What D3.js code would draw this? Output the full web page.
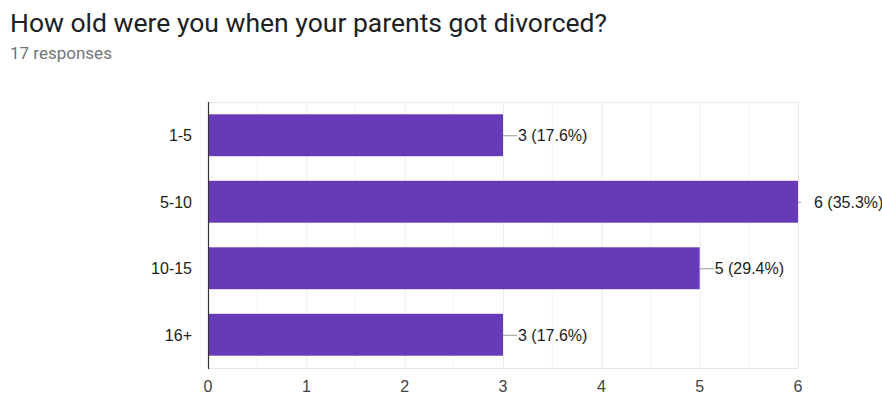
<!DOCTYPE html>
<html><head><meta charset="utf-8">
<script src="https://cdn.jsdelivr.net/npm/d3@7/dist/d3.min.js"></script>
<style>body{margin:0;background:#fff}svg{display:block}</style>
</head><body>
<svg id="c" width="882" height="394"></svg>
<script>
const title = "How old were you when your parents got divorced?";
const subtitle = "17 responses";
const categories = ["1-5", "5-10", "10-15", "16+"];
const values = [3, 6, 5, 3];
const percents = ["17.6%", "35.3%", "29.4%", "17.6%"];
const xTicks = [0, 1, 2, 3, 4, 5, 6];

const svg = d3.select("#c");
svg.append("text").attr("x", 10).attr("y", 32)
  .attr("font-family", "Roboto").attr("font-size", 26.5).attr("fill", "#202124").text(title);
svg.append("text").attr("x", 10).attr("y", 59)
  .attr("font-family", "Roboto").attr("font-size", 17).attr("fill", "#70757a").text(subtitle);

const m = {left: 208, right: 798, top: 102, bottom: 368};
const x = d3.scaleLinear().domain([0, 6]).range([m.left, m.right]);
const y = d3.scaleBand().domain(categories).range([m.top, m.bottom]).paddingInner(0.37).paddingOuter(0.185);

const g = svg.append("g");
// minor gridlines
g.selectAll(".minor").data(d3.range(0.5, 6, 1)).join("line")
  .attr("x1", d => x(d)).attr("x2", d => x(d)).attr("y1", m.top).attr("y2", m.bottom)
  .attr("stroke", "#f3f3f3").attr("stroke-width", 1);
g.selectAll(".major").data(xTicks.slice(1)).join("line")
  .attr("x1", d => x(d) + 0.5).attr("x2", d => x(d) + 0.5).attr("y1", m.top).attr("y2", m.bottom)
  .attr("stroke", "#ebebeb").attr("stroke-width", 1);
g.append("line").attr("x1", m.left).attr("x2", m.right).attr("y1", m.top + 0.5).attr("y2", m.top + 0.5)
  .attr("stroke", "#ebebeb");
g.append("line").attr("x1", m.left).attr("x2", m.right).attr("y1", m.bottom + 0.5).attr("y2", m.bottom + 0.5)
  .attr("stroke", "#e6e6e6");

// bars
g.selectAll(".bar").data(values).join("rect")
  .attr("x", x(0)).attr("y", (d, i) => y(categories[i]))
  .attr("width", d => x(d) - x(0)).attr("height", y.bandwidth())
  .attr("fill", "#673ab7");

// leader lines & labels
values.forEach((v, i) => {
  const cy = y(categories[i]) + y.bandwidth() / 2;
  const atEnd = v === 6;
  const x0 = x(v);
  const x1 = atEnd ? x0 + 3 : x0 + 14;
  g.append("line").attr("x1", x0).attr("x2", x1).attr("y1", cy + 0.5).attr("y2", cy + 0.5)
    .attr("stroke", "#999").attr("stroke-width", 1);
  g.append("text").attr("x", atEnd ? x0 + 16 : x1 + 1).attr("y", cy + 6)
    .attr("font-family", "Liberation Sans, Arial").attr("font-size", 16).attr("fill", "#222")
    .text(`${v} (${percents[i]})`);
});

// left axis line
g.append("line").attr("x1", m.left + 0.5).attr("x2", m.left + 0.5).attr("y1", m.top).attr("y2", m.bottom + 1)
  .attr("stroke", "#333").attr("stroke-width", 1.2);

// category labels
g.selectAll(".cat").data(categories).join("text")
  .attr("x", 192).attr("y", d => y(d) + y.bandwidth() / 2 + 6)
  .attr("text-anchor", "end").attr("font-family", "Liberation Sans, Arial").attr("font-size", 16)
  .attr("fill", "#222").text(d => d);

// x tick labels
g.selectAll(".tick").data(xTicks).join("text")
  .attr("x", d => x(d)).attr("y", 392).attr("text-anchor", "middle")
  .attr("font-family", "Liberation Sans, Arial").attr("font-size", 16).attr("fill", "#444")
  .text(d => d);
</script>
</body></html>
